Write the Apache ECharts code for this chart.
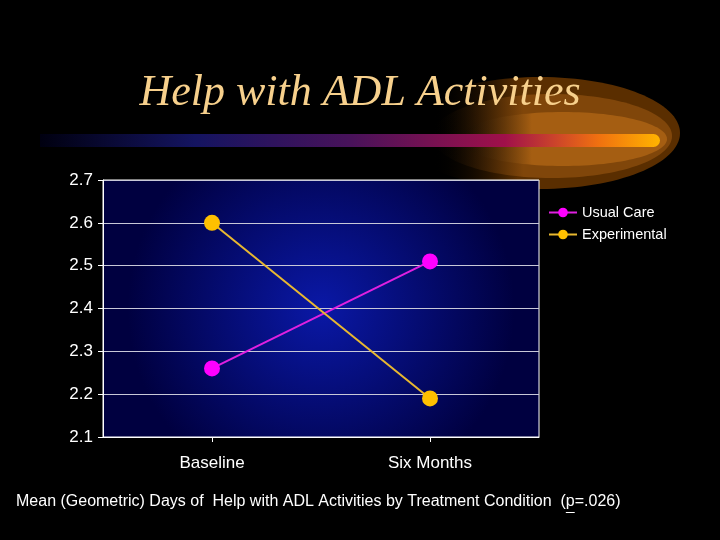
<!DOCTYPE html>
<html><head><meta charset="utf-8">
<script src="https://cdn.jsdelivr.net/npm/echarts@6/dist/echarts.min.js"></script>
<style>html,body{margin:0;padding:0;background:#000;}#c{width:720px;height:540px;}</style>
</head><body><div id="c"></div>
<script>
var categories = ['Baseline', 'Six Months'];
var usualCare = [2.26, 2.51];
var experimental = [2.60, 2.19];
var yTicks = [2.1, 2.2, 2.3, 2.4, 2.5, 2.6, 2.7];
var titleText = 'Help with ADL Activities';
var captionPrefix = 'Mean (Geometric) Days of  Help with ADL Activities by Treatment Condition  (';
var captionP = 'p';
var captionSuffix = '=.026)';

var capFont = "16px 'Liberation Sans',Arial,sans-serif";
var mc = document.createElement('canvas').getContext('2d');
mc.font = capFont;
var pX = 16 + mc.measureText(captionPrefix).width;
var pW = mc.measureText(captionP).width;

var chart = echarts.init(document.getElementById('c'), null, {renderer: 'canvas'});
var sans = "'Liberation Sans',Arial,sans-serif";
function fade(a, b, col) {
  return {type: 'linear', x: 0, y: 0, x2: 1, y2: 0, colorStops: [
    {offset: 0, color: 'rgba(0,0,0,0)'}, {offset: a, color: 'rgba(0,0,0,0)'}, {offset: b, color: col}, {offset: 1, color: col}]};
}
chart.setOption({
  backgroundColor: '#000',
  animation: false,
  graphic: [
    {type: 'ellipse', z: -10, shape: {cx: 540, cy: 133, rx: 140, ry: 56}, style: {fill: fade(0.12, 0.42, '#5a2e00')}},
    {type: 'ellipse', z: -9, shape: {cx: 552, cy: 136, rx: 120, ry: 42}, style: {fill: fade(0.0, 0.38, '#80460a')}},
    {type: 'ellipse', z: -8, shape: {cx: 563, cy: 139, rx: 104, ry: 27}, style: {fill: fade(0.0, 0.35, '#a55e12')}},
    {type: 'rect', z: -7, shape: {x: 40, y: 134, width: 620, height: 13, r: [0, 6.5, 6.5, 0]},
      style: {fill: {type: 'linear', x: 0, y: 0, x2: 1, y2: 0, colorStops: [
        {offset: 0, color: '#000010'}, {offset: 0.25, color: '#141460'}, {offset: 0.5, color: '#48125a'},
        {offset: 0.75, color: '#a0104a'}, {offset: 0.9, color: '#f07010'}, {offset: 1, color: '#ffb400'}]}}},
    {type: 'text', left: 'center', top: 71, style: {text: titleText, fill: '#f7d08c',
      font: "italic 44px 'Liberation Serif','Times New Roman',serif"}},
    {type: 'text', left: 16, top: 494, style: {text: captionPrefix + captionP + captionSuffix, fill: '#ffffff', font: capFont}},
    {type: 'line', shape: {x1: pX, y1: 512.5, x2: pX + pW, y2: 512.5}, style: {stroke: '#ffffff', lineWidth: 1}}
  ],
  legend: {
    orient: 'vertical', left: 543, top: 200, itemWidth: 28, itemHeight: 12, itemGap: 7,
    textStyle: {color: '#fff', fontSize: 14.5, fontFamily: sans},
    data: ['Usual Care', 'Experimental']
  },
  grid: {left: 103, top: 180, right: 181, bottom: 103, show: true, borderColor: '#ffffff', borderWidth: 1,
    backgroundColor: {type: 'radial', x: 0.5, y: 0.5, r: 0.75, colorStops: [
      {offset: 0, color: '#0a18a6'}, {offset: 1, color: '#000040'}]}},
  xAxis: {
    type: 'category', data: categories, boundaryGap: true,
    axisLine: {lineStyle: {color: '#fff', width: 1}},
    axisTick: {show: true, alignWithLabel: true, length: 5, lineStyle: {color: '#fff'}},
    axisLabel: {color: '#fff', fontSize: 17, fontFamily: sans, margin: 18},
    splitLine: {show: false}
  },
  yAxis: {
    type: 'value', min: 2.1, max: 2.7, interval: 0.1,
    axisLine: {show: true, lineStyle: {color: '#fff'}},
    axisTick: {show: true, length: 5, lineStyle: {color: '#fff'}},
    axisLabel: {color: '#fff', fontSize: 17, fontFamily: sans, margin: 10,
      formatter: function (v) { var r = Math.round(v * 10) / 10; return yTicks.indexOf(r) >= 0 ? r.toFixed(1) : ''; }},
    splitLine: {show: true, lineStyle: {color: '#c8c8d8', width: 1}}
  },
  series: [
    {name: 'Usual Care', type: 'line', data: usualCare, symbol: 'circle', symbolSize: 16,
      itemStyle: {color: '#ff00ff'}, lineStyle: {color: '#e020e0', width: 2}},
    {name: 'Experimental', type: 'line', data: experimental, symbol: 'circle', symbolSize: 16,
      itemStyle: {color: '#ffc000'}, lineStyle: {color: '#e8b830', width: 2}}
  ]
});
</script></body></html>
